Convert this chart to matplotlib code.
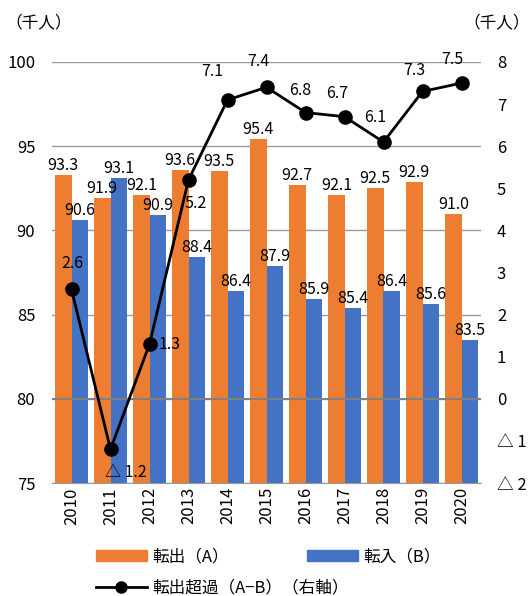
import matplotlib
matplotlib.use("Agg")
import matplotlib.pyplot as plt
from matplotlib.patches import Patch
from matplotlib.lines import Line2D
from matplotlib.ticker import FuncFormatter

plt.rcParams['font.family'] = ['Noto Sans CJK JP', 'DejaVu Sans']

# data (thousand persons)
years = ['2010', '2011', '2012', '2013', '2014', '2015', '2016', '2017', '2018', '2019', '2020']
out_a = [93.3, 91.9, 92.1, 93.6, 93.5, 95.4, 92.7, 92.1, 92.5, 92.9, 91.0]
in_b = [90.6, 93.1, 90.9, 88.4, 86.4, 87.9, 85.9, 85.4, 86.4, 85.6, 83.5]
excess = [2.6, -1.2, 1.3, 5.2, 7.1, 7.4, 6.8, 6.7, 6.1, 7.3, 7.5]

# label offsets for the line (pixels)
line_lbl_off = [(1, 26), (15, -23), (20, 0), (7, -24), (-15, 28), (-8, 26),
                (-5, 22), (-7, 23), (-8, 24), (-8, 21), (-9, 24)]

orange = '#ED7D31'
blue = '#4472C4'


def tri(v):
    if v < 0:
        return '△ ' + f'{abs(v):g}'
    return f'{v:g}'


fig = plt.figure(figsize=(5.30, 5.96), dpi=100)
ax = fig.add_axes([52 / 530, 1 - 483 / 596, (481 - 52) / 530, (483 - 62) / 596])

x = list(range(len(years)))
w = 0.423
ax.bar([i - w / 2 for i in x], out_a, width=w, color=orange, zorder=2)
ax.bar([i + w / 2 for i in x], in_b, width=w, color=blue, zorder=2)

for i in x:
    ax.annotate(f'{out_a[i]:.1f}', (i - w / 2, out_a[i]), xytext=(0, 1),
                textcoords='offset pixels', ha='center', va='bottom', fontsize=11.5, zorder=3)
    ax.annotate(f'{in_b[i]:.1f}', (i + w / 2, in_b[i]), xytext=(0, 1),
                textcoords='offset pixels', ha='center', va='bottom', fontsize=11.5, zorder=3)

ax.set_xlim(-0.5, len(years) - 0.5)
ax.set_ylim(75, 100)
ax.set_yticks([75, 80, 85, 90, 95, 100])
ax.set_xticks(x)
ax.set_xticklabels(years, rotation=90, fontsize=12)
ax.tick_params(axis='both', length=0)
ax.tick_params(axis='y', pad=12, labelsize=12)
ax.tick_params(axis='x', pad=3)
ax.grid(axis='y', color='#9a9a9a', lw=1, zorder=1)
for s in ['left', 'right', 'top']:
    ax.spines[s].set_visible(False)
ax.spines['bottom'].set_color('#9a9a9a')

ax2 = ax.twinx()
ax2.set_ylim(-2, 8)
ax2.set_yticks(range(-2, 9))
ax2.yaxis.set_major_formatter(FuncFormatter(lambda v, p: tri(int(v))))
ax2.tick_params(axis='y', length=0, pad=11.5, labelsize=12)
for s in ['left', 'right', 'top', 'bottom']:
    ax2.spines[s].set_visible(False)
ax2.axhline(0, color='#808080', lw=1.4, zorder=1)
ax2.plot(x, excess, color='black', lw=2, marker='o', markersize=9.5, zorder=4)
for i in x:
    ax2.annotate(tri(excess[i]), (i, excess[i]), xytext=line_lbl_off[i],
                 textcoords='offset pixels', ha='center', va='center', fontsize=11.5, zorder=5)

fig.text(39 / 530, 1 - 23 / 596, '（千人）', ha='center', va='center', fontsize=12)
fig.text(497 / 530, 1 - 23 / 596, '（千人）', ha='center', va='center', fontsize=12)

# legend entries placed one by one
leg_kw = dict(frameon=False, loc='center left', fontsize=12, handlelength=3.05,
              handletextpad=0.35, borderpad=0, borderaxespad=0, handleheight=0.6)
fig.legend([Patch(color=orange)], ['転出（A）'], bbox_to_anchor=(96 / 530, 1 - 557 / 596), **leg_kw)
fig.legend([Patch(color=blue)], ['転入（B）'], bbox_to_anchor=(307 / 530, 1 - 557 / 596), **leg_kw)
fig.legend([Line2D([], [], color='black', lw=2, marker='o', markersize=8)], ['転出超過（A−B）（右軸）'],
           bbox_to_anchor=(96 / 530, 1 - 588 / 596), **leg_kw)

fig.savefig('out.png', dpi=100)
